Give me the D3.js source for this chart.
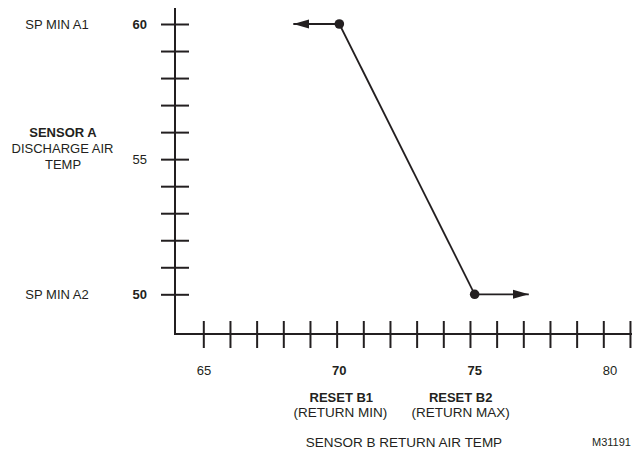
<!DOCTYPE html>
<html>
<head>
<meta charset="utf-8">
<script src="https://cdn.jsdelivr.net/npm/d3@7/dist/d3.min.js"></script>
<style>
  body { margin: 0; background: #fff; }
  svg { display: block; font-family: "Liberation Sans", Arial, sans-serif; }
  text { fill: #231f20; }
</style>
</head>
<body>
<svg width="632" height="451"></svg>
<script>
// reset schedule: discharge setpoint vs return air temp
var resetX = [70, 75];          // RESET B1, RESET B2
var resetY = [60, 50];          // SP MIN A1, SP MIN A2
var arrowEnds = [68.3, 77];     // where the flat arrows stop
var xTicks = d3.range(65, 82);
var yTicks = d3.range(50, 61);
var xLabels = [65, 70, 75, 80];
var xBold = [70, 75];
var yLabels = [50, 55, 60];
var yBold = [50, 60];

var ink = "#231f20";
var svg = d3.select("svg");

// data scale and the (slightly tighter) ruler that the ticks were drawn on
var x = d3.scaleLinear().domain([65, 80]).range([204, 610]);
var xRuler = d3.scaleLinear().domain([65, 80]).range([203.3, 603.3]);
var y = d3.scaleLinear().domain([50, 60]).range([294.3, 24]);

var x0 = 175, y0 = 334;

// axis lines
svg.append("line").attr("x1", x0).attr("x2", x0).attr("y1", 8).attr("y2", y0)
    .attr("stroke", ink).attr("stroke-width", 2);
svg.append("line").attr("x1", x0 - 1).attr("x2", 632).attr("y1", y0).attr("y2", y0)
    .attr("stroke", ink).attr("stroke-width", 2);

// ticks crossing the axes
var yAxis = svg.append("g").attr("transform", "translate(" + x0 + ",0)")
    .call(d3.axisLeft(y).tickValues(yTicks).tickSize(14).tickFormat(""));
yAxis.select(".domain").remove();
yAxis.selectAll("line").attr("x1", 14).attr("stroke", ink).attr("stroke-width", 2);

var xAxis = svg.append("g").attr("transform", "translate(0," + y0 + ")")
    .call(d3.axisBottom(xRuler).tickValues(xTicks).tickSize(14).tickFormat(""));
xAxis.select(".domain").remove();
xAxis.selectAll("line").attr("y1", -13).attr("stroke", ink).attr("stroke-width", 2);

// tick labels
svg.selectAll(".ylab").data(yLabels).enter().append("text")
    .attr("x", 147).attr("y", function (d) { return y(d) + 4.5; })
    .attr("text-anchor", "end").attr("font-size", 13)
    .attr("font-weight", function (d) { return yBold.indexOf(d) >= 0 ? "bold" : "normal"; })
    .text(function (d) { return d; });

svg.selectAll(".xlab").data(xLabels).enter().append("text")
    .attr("x", function (d) { return x(d); }).attr("y", 375)
    .attr("text-anchor", "middle").attr("font-size", 13)
    .attr("font-weight", function (d) { return xBold.indexOf(d) >= 0 ? "bold" : "normal"; })
    .text(function (d) { return d; });

// left side annotations
function label(txt, cx, cy, size, bold) {
    svg.append("text").attr("x", cx).attr("y", cy)
        .attr("text-anchor", "middle").attr("font-size", size)
        .attr("font-weight", bold ? "bold" : "normal").text(txt);
}
label("SP MIN A1", 57, y(60) + 4.5, 13, false);
label("SP MIN A2", 57, y(50) + 4.5, 13, false);
label("SENSOR A", 63, 136.7, 13, true);
label("DISCHARGE AIR", 62.5, 152.7, 13, false);
label("TEMP", 63, 169.3, 13, false);

label("RESET B1", x(70) + 2, 401.7, 13, true);
label("(RETURN MIN)", x(70) + 1, 416.5, 13.5, false);
label("RESET B2", x(75) - 14, 401.7, 13, true);
label("(RETURN MAX)", x(75) - 14, 416.5, 13.5, false);
label("SENSOR B RETURN AIR TEMP", 404, 446.5, 13.5, false);

svg.append("text").attr("x", 592).attr("y", 446).attr("font-size", 11).text("M31191");

// arrowhead
svg.append("defs").append("marker")
    .attr("id", "head").attr("viewBox", "0 0 16 10")
    .attr("refX", 16).attr("refY", 5)
    .attr("markerUnits", "userSpaceOnUse")
    .attr("markerWidth", 16).attr("markerHeight", 10)
    .attr("orient", "auto")
  .append("path").attr("d", "M0,0.5 L16,5 L0,9.5 Z").attr("fill", ink);

// sloped reset line
var pts = resetX.map(function (d, i) { return [x(d), y(resetY[i])]; });
svg.append("path").attr("d", d3.line()(pts))
    .attr("fill", "none").attr("stroke", ink).attr("stroke-width", 1.8);

// flat arrows beyond the reset range
resetX.forEach(function (d, i) {
    svg.append("line")
        .attr("x1", x(d)).attr("y1", y(resetY[i]))
        .attr("x2", x(arrowEnds[i])).attr("y2", y(resetY[i]))
        .attr("stroke", ink).attr("stroke-width", 1.8)
        .attr("marker-end", "url(#head)");
});

svg.selectAll(".pt").data(resetX).enter().append("circle")
    .attr("cx", function (d) { return x(d); })
    .attr("cy", function (d, i) { return y(resetY[i]); })
    .attr("r", 4.8).attr("fill", ink);
</script>
</body>
</html>
